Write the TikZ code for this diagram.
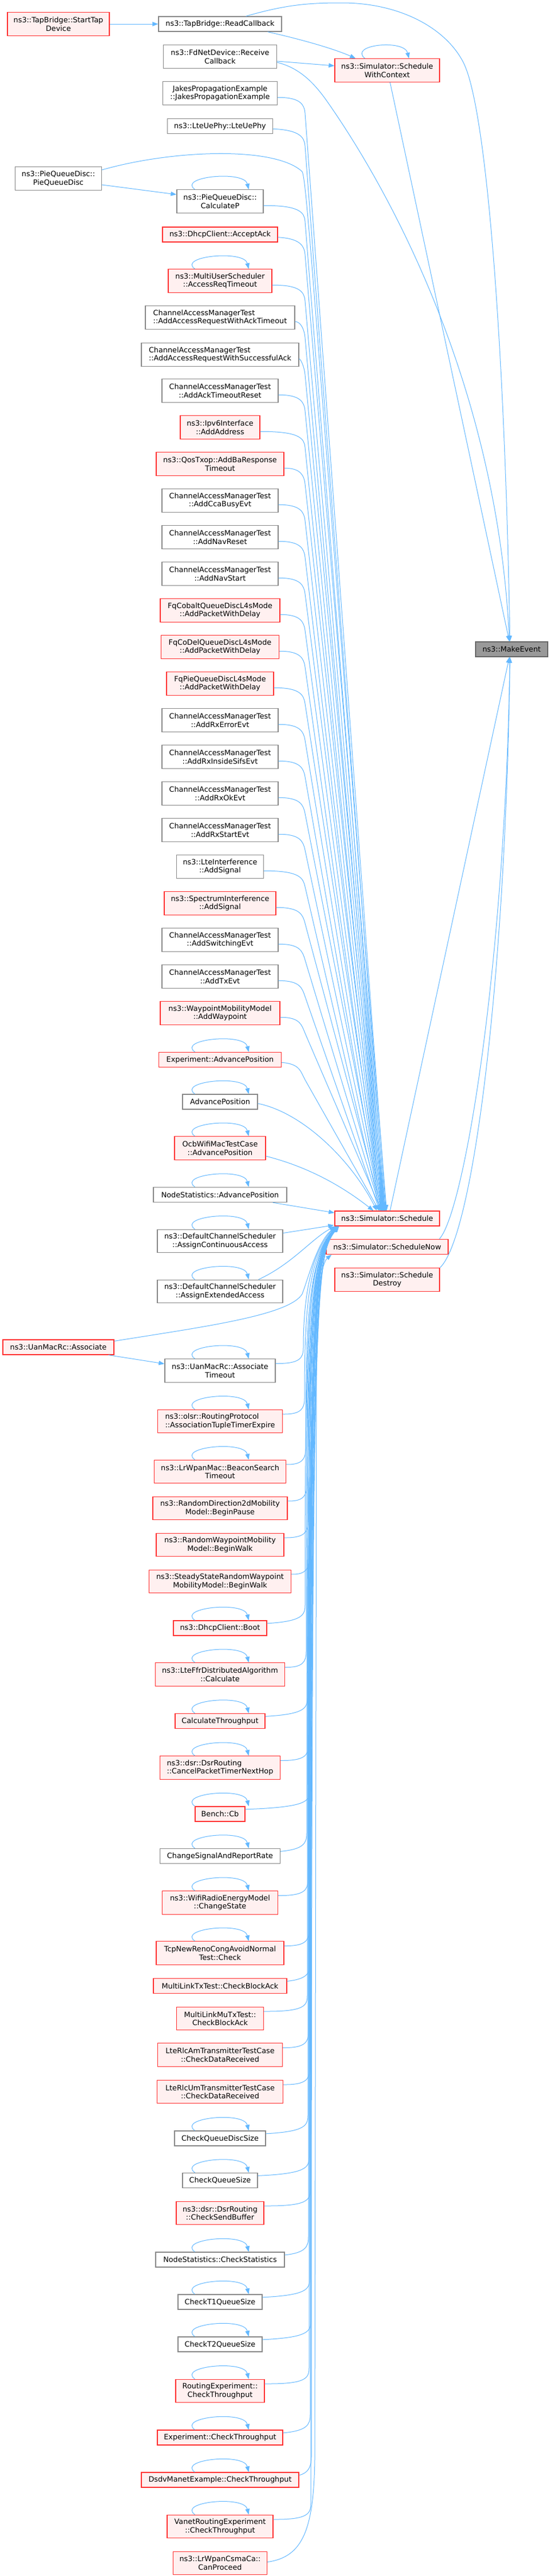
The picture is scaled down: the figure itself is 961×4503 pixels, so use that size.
\documentclass[tikz,border=0pt]{standalone}
\usepackage{fontspec}
\setmainfont{DejaVu Sans}
\usetikzlibrary{arrows.meta,calc}
\definecolor{edgeblue}{HTML}{63B8FF}
\definecolor{boxred}{HTML}{FF3030}
\definecolor{boxpink}{HTML}{FFF0F0}
\definecolor{boxgray}{HTML}{888888}
\definecolor{megray}{HTML}{999999}
\definecolor{meborder}{HTML}{666666}
\newcommand\nodefnt{\fontsize{12.8pt}{14.5pt}\selectfont}
\tikzset{
  box/.style={draw=boxgray, line width=1.3pt, fill=white, inner xsep=2pt, inner ysep=0pt,
    font=\nodefnt, align=center, minimum height=26pt, text=black},
  rbox/.style={box, draw=boxred, fill=boxpink},
  two/.style={minimum height=40.5pt},
  lft/.style={align=left},
  edge/.style={draw=edgeblue, line width=1pt, -{Triangle[length=10pt,width=7.5pt]}},
}
\newcommand\sloop[1]{\draw[edge] ($(#1.north)+(-44,0)$) .. controls ($(#1.north)+(-75,-22)$) and ($(#1.north)+(42,-34)$) .. ($(#1.north)+(50,0)$);}
\newcommand\aedge[2]{%
  \coordinate (tK) at ($(#1.center -| kx)+(3,35)$);
  \coordinate (tT) at ($(sch.north)+(#2,0)$);
  \draw[edge] ($(#1.east)!0.35!(#1.south east)$) .. controls ($(#1.center -| kx)+(-5,7)$) and ($(tK)!-15pt!(tT)$) .. (tK) -- (tT);}
\newcommand\bedge[3]{%
  \draw[edge] ($(#1.east)!0.6!(#1.north east)$) .. controls ($(#1.center -| kx)+(#2-6,-12)$) and ($(#1.center -| kx)+(#2,-22)$) .. ($(#1.center -| kx)+(#2,-40)$) .. controls ($(kx |- kb)+(#2,0)$) and ($(kx |- kc)+(#2+5,0)$) .. ($(sch.south west)+(#3,0)$);}
\begin{document}
\begin{tikzpicture}[x=1pt,y=-1pt]
\useasboundingbox (0,0) rectangle (961,4503);
\fill[white] (0,0) rectangle (961,4503);
\coordinate (kx) at (530,0);
\coordinate (kb) at (0,2300);
\coordinate (kc) at (0,2200);
\def\mx{384.5}
\def\lx{102}
\def\rx{676.5}
% left column
\node[rbox,two,minimum width=178pt] (st) at (\lx,42) {ns3::TapBridge::StartTap\\Device};
\node[box,two,minimum width=151pt] (pqd) at (\lx,312) {ns3::PieQueueDisc::\\PieQueueDisc};
\node[rbox,minimum width=194pt] (uan) at (\lx,2355) {ns3::UanMacRc::Associate};
% right column
\node[rbox,two,minimum width=183pt] (swc) at (\rx,123) {ns3::Simulator::Schedule\\WithContext};
\node[rbox,minimum width=183pt] (sch) at (\rx,2130) {ns3::Simulator::Schedule};
\node[rbox,minimum width=213pt] (snow) at (\rx,2179.5) {ns3::Simulator::ScheduleNow};
\node[rbox,two,minimum width=183pt] (sdes) at (\rx,2237) {ns3::Simulator::Schedule\\Destroy};
\node[box,draw=meborder,fill=megray,minimum width=126pt] (me) at (894,1135) {ns3::MakeEvent};
% middle column
\node[box,minimum width=215pt] (rcb) at (\mx,42) {ns3::TapBridge::ReadCallback};
\node[box,two,minimum width=198pt] (fdr) at (\mx,99) {ns3::FdNetDevice::Receive\\Callback};
\node[box,two,minimum width=200pt] (jakes) at (\mx,163) {JakesPropagationExample\\::JakesPropagationExample};
\node[box,minimum width=184pt] (lte) at (\mx,220.5) {ns3::LteUePhy::LteUePhy};
\node[box,two,minimum width=151pt] (calcp) at (\mx,352) {ns3::PieQueueDisc::\\CalculateP};
\node[rbox,minimum width=201pt] (acc) at (\mx,410) {ns3::DhcpClient::AcceptAck};
\node[rbox,two,minimum width=181pt] (mus) at (\mx,491) {ns3::MultiUserScheduler\\::AccessReqTimeout};
\node[box,two,lft,minimum width=261pt] (cam1) at (\mx,555) {ChannelAccessManagerTest\\::AddAccessRequestWithAckTimeout};
\node[box,two,lft,minimum width=275pt] (cam2) at (\mx,620) {ChannelAccessManagerTest\\::AddAccessRequestWithSuccessfulAck};
\node[box,two,minimum width=203pt] (cam3) at (\mx,683) {ChannelAccessManagerTest\\::AddAckTimeoutReset};
\node[rbox,two,minimum width=139pt] (ipv6) at (\mx,747) {ns3::Ipv6Interface\\::AddAddress};
\node[rbox,two,minimum width=223pt] (qos) at (\mx,811) {ns3::QosTxop::AddBaResponse\\Timeout};
\node[box,two,minimum width=203pt] (cam4) at (\mx,875) {ChannelAccessManagerTest\\::AddCcaBusyEvt};
\node[box,two,minimum width=203pt] (cam5) at (\mx,939) {ChannelAccessManagerTest\\::AddNavReset};
\node[box,two,minimum width=203pt] (cam6) at (\mx,1003) {ChannelAccessManagerTest\\::AddNavStart};
\node[rbox,two,minimum width=209pt] (fqc) at (\mx,1067) {FqCobaltQueueDiscL4sMode\\::AddPacketWithDelay};
\node[rbox,two,minimum width=206pt] (fqd) at (\mx,1131) {FqCoDelQueueDiscL4sMode\\::AddPacketWithDelay};
\node[rbox,two,minimum width=187pt] (fqp) at (\mx,1195) {FqPieQueueDiscL4sMode\\::AddPacketWithDelay};
\node[box,two,minimum width=203pt] (cam7) at (\mx,1259) {ChannelAccessManagerTest\\::AddRxErrorEvt};
\node[box,two,minimum width=203pt] (cam8) at (\mx,1323) {ChannelAccessManagerTest\\::AddRxInsideSifsEvt};
\node[box,two,minimum width=203pt] (cam9) at (\mx,1387) {ChannelAccessManagerTest\\::AddRxOkEvt};
\node[box,two,minimum width=203pt] (cam10) at (\mx,1451) {ChannelAccessManagerTest\\::AddRxStartEvt};
\node[box,two,minimum width=152pt] (lteint) at (\mx,1515) {ns3::LteInterference\\::AddSignal};
\node[rbox,two,minimum width=195pt] (spint) at (\mx,1579) {ns3::SpectrumInterference\\::AddSignal};
\node[box,two,minimum width=203pt] (cam11) at (\mx,1643) {ChannelAccessManagerTest\\::AddSwitchingEvt};
\node[box,two,minimum width=203pt] (cam12) at (\mx,1707) {ChannelAccessManagerTest\\::AddTxEvt};
\node[rbox,two,minimum width=209pt] (wp) at (\mx,1771) {ns3::WaypointMobilityModel\\::AddWaypoint};
\node[rbox,minimum width=214pt] (expadv) at (\mx,1852.5) {Experiment::AdvancePosition};
\node[box,minimum width=131pt] (adv) at (\mx,1926) {AdvancePosition};
\node[rbox,two,minimum width=159pt] (ocb) at (\mx,2007) {OcbWifiMacTestCase\\::AdvancePosition};
\node[box,minimum width=233pt] (nsadv) at (\mx,2088.5) {NodeStatistics::AdvancePosition};
\node[box,two,minimum width=219pt] (dcs1) at (\mx,2169.5) {ns3::DefaultChannelScheduler\\::AssignContinuousAccess};
\node[box,two,minimum width=219pt] (dcs2) at (\mx,2257.5) {ns3::DefaultChannelScheduler\\::AssignExtendedAccess};
\node[box,two,minimum width=193pt] (uanto) at (\mx,2396) {ns3::UanMacRc::Associate\\Timeout};
\node[rbox,two,lft,minimum width=218pt] (olsr) at (\mx,2484.5) {ns3::olsr::RoutingProtocol\\::AssociationTupleTimerExpire};
\node[rbox,two,minimum width=230pt] (lrb) at (\mx,2572.5) {ns3::LrWpanMac::BeaconSearch\\Timeout};
\node[rbox,two,minimum width=235pt] (rd2) at (\mx,2636.5) {ns3::RandomDirection2dMobility\\Model::BeginPause};
\node[rbox,two,minimum width=223pt] (rwp) at (\mx,2700.5) {ns3::RandomWaypointMobility\\Model::BeginWalk};
\node[rbox,two,minimum width=248pt] (ssrwp) at (\mx,2764.5) {ns3::SteadyStateRandomWaypoint\\MobilityModel::BeginWalk};
\node[rbox,minimum width=163pt] (boot) at (\mx,2846) {ns3::DhcpClient::Boot};
\node[rbox,two,minimum width=226pt] (ffr) at (\mx,2927) {ns3::LteFfrDistributedAlgorithm\\::Calculate};
\node[rbox,minimum width=157pt] (cthr) at (\mx,3008.5) {CalculateThroughput};
\node[rbox,two,lft,minimum width=210pt] (cptn) at (\mx,3090) {ns3::dsr::DsrRouting\\::CancelPacketTimerNextHop};
\node[rbox,minimum width=87pt] (bench) at (\mx,3171) {Bench::Cb};
\node[box,minimum width=210pt] (csar) at (\mx,3244.5) {ChangeSignalAndReportRate};
\node[rbox,two,minimum width=202pt] (wre) at (\mx,3326) {ns3::WifiRadioEnergyModel\\::ChangeState};
\node[rbox,two,minimum width=223pt] (tcp) at (\mx,3414) {TcpNewRenoCongAvoidNormal\\Test::Check};
\node[rbox,minimum width=233pt] (mltx) at (\mx,3471.5) {MultiLinkTxTest::CheckBlockAck};
\node[rbox,two,minimum width=152pt] (mlmu) at (\mx,3528.5) {MultiLinkMuTxTest::\\CheckBlockAck};
\node[rbox,two,minimum width=218pt] (rlcam) at (\mx,3592) {LteRlcAmTransmitterTestCase\\::CheckDataReceived};
\node[rbox,two,minimum width=220pt] (rlcum) at (\mx,3656.5) {LteRlcUmTransmitterTestCase\\::CheckDataReceived};
\node[box,minimum width=159pt] (cqd) at (\mx,3738) {CheckQueueDiscSize};
\node[box,minimum width=131pt] (cqs) at (\mx,3811.5) {CheckQueueSize};
\node[rbox,two,minimum width=153pt] (csb) at (\mx,3868.5) {ns3::dsr::DsrRouting\\::CheckSendBuffer};
\node[box,minimum width=225pt] (nscs) at (\mx,3950) {NodeStatistics::CheckStatistics};
\node[box,minimum width=147pt] (ct1) at (\mx,4024) {CheckT1QueueSize};
\node[box,minimum width=147pt] (ct2) at (\mx,4098) {CheckT2QueueSize};
\node[rbox,two,minimum width=155pt] (rect) at (\mx,4179.5) {RoutingExperiment::\\CheckThroughput};
\node[rbox,minimum width=219pt] (exct) at (\mx,4261) {Experiment::CheckThroughput};
\node[rbox,minimum width=275pt] (dsdv) at (\mx,4335) {DsdvManetExample::CheckThroughput};
\node[rbox,two,minimum width=185pt] (vanet) at (\mx,4416.5) {VanetRoutingExperiment\\::CheckThroughput};
\node[rbox,two,minimum width=164pt] (canp) at (\mx,4480.5) {ns3::LrWpanCsmaCa::\\CanProceed};
% self loops
\draw[edge] ($(swc.north)+(-39,0)$) .. controls ($(swc.north)+(-68,-24)$) and ($(swc.north)+(30,-34)$) .. ($(swc.north)+(38,0)$);
\foreach \n in {calcp,mus,expadv,adv,ocb,nsadv,dcs1,dcs2,uanto,olsr,lrb,boot,ffr,cthr,cptn,bench,csar,wre,tcp,cqd,cqs,nscs,ct1,ct2,rect,exct,dsdv,vanet}{\sloop{\n}}
% top connectors
\draw[edge] (st) -- (rcb);
\draw[edge] ($(rcb.south east)+(-25,0)$) .. controls (540,72) and (590,88) .. ($(swc.north west)+(37,0)$);
\draw[edge] ($(rcb.north east)+(-63,0)$) .. controls (500,8) and (540,5) .. (597,5) .. controls (700,5) and (780,50) .. (810,110) .. controls (850,190) and (882,600) .. ($(me.north)+(-3,0)$);
\draw[edge] ($(fdr.east)+(0,8)$) -- ($(swc.west)+(0,-8)$);
\draw[edge] ($(fdr.east)+(0,10)$) .. controls (520,118) and (545,140) .. (570,175) .. controls (700,360) and (870,700) .. ($(me.north)+(-4,0)$);
\draw[edge] ($(swc.south)+(5,0)$) -- ($(me.north)+(-4,0)$);
\draw[edge] ($(sch.north)+(5,0)$) -- ($(me.south)+(-4,0)$);
\draw[edge] ($(snow.north east)+(-16,0)$) .. controls (810,2120) and (882,1700) .. ($(me.south)+(-3,0)$);
\draw[edge] (sdes.north east) .. controls (828,2160) and (884,1700) .. ($(me.south)+(-3,0)$);
\draw[edge] ($(pqd.east)+(0,11)$) -- ($(calcp.west)+(0,-12)$);
\draw[edge] ($(pqd.east)+(0,-15)$) .. controls (300,262) and (480,255) .. (528,300) .. controls (538,318) and (560,700) .. ($(sch.north)+(-1,0)$);
% callers above Schedule
\foreach \n/\t in {jakes/-2,lte/-4,calcp/-6,acc/-3,mus/-5,cam1/-7,cam2/-4,cam3/-6,ipv6/-8,qos/-5,cam4/-7,cam5/-9,cam6/-6,fqc/-8,fqd/-10,fqp/-7,cam7/-9,cam8/-11,cam9/-8,cam10/-10,lteint/-12,spint/-9,cam11/-11,cam12/-13,wp/-10,expadv/-14}{\aedge{\n}{\t}}
\draw[edge] ($(adv.east)+(0,3)$) .. controls (530,1945) and (615,2030) .. ($(sch.north)+(-18,0)$);
\draw[edge] ($(ocb.east)+(0,14)$) .. controls (540,2040) and (600,2075) .. ($(sch.north)+(-24,0)$);
\draw[edge] ($(nsadv.south east)+(-25,0)$) -- ($(sch.west)+(0,-10)$);
% callers below Schedule
\draw[edge] ($(dcs1.east)+(0,-14)$) -- ($(sch.south west)+(-1,-2)$);
\draw[edge] ($(dcs2.north east)+(-43,0)$) .. controls (510,2210) and (545,2165) .. ($(sch.south west)+(1,0)$);
\draw[edge] ($(uan.south east)+(-10,0)$) -- ($(uanto.west)+(0,-12)$);
\draw[edge] ($(uan.north east)+(0,3)$) .. controls (350,2320) and (505,2300) .. (528,2262) .. controls (540,2230) and (555,2170) .. ($(sch.south west)+(3,0)$);
\foreach \n/\d/\t in {uanto/0/2,olsr/2/4,lrb/4/6,rd2/6/3,rwp/8/5,ssrwp/10/7,boot/3/4,ffr/5/6,cthr/7/3,cptn/9/5,bench/11/7,csar/6/4,wre/8/6,tcp/10/8,mltx/12/5,mlmu/7/3,rlcam/9/5,rlcum/11/7,cqd/8/4,cqs/10/6,csb/12/8,nscs/9/5,ct1/11/3,ct2/13/6,rect/10/4,exct/12/7,dsdv/14/5,vanet/13/6}{\bedge{\n}{\d}{\t}}
\draw[edge] ($(canp.east)+(0,-2)$) .. controls (530,4470) and (548,4420) .. (550,4300) -- (553,2330) .. controls (555,2240) and (565,2205) .. ($(snow.south west)+(10,0)$);
\end{tikzpicture}
\end{document}
